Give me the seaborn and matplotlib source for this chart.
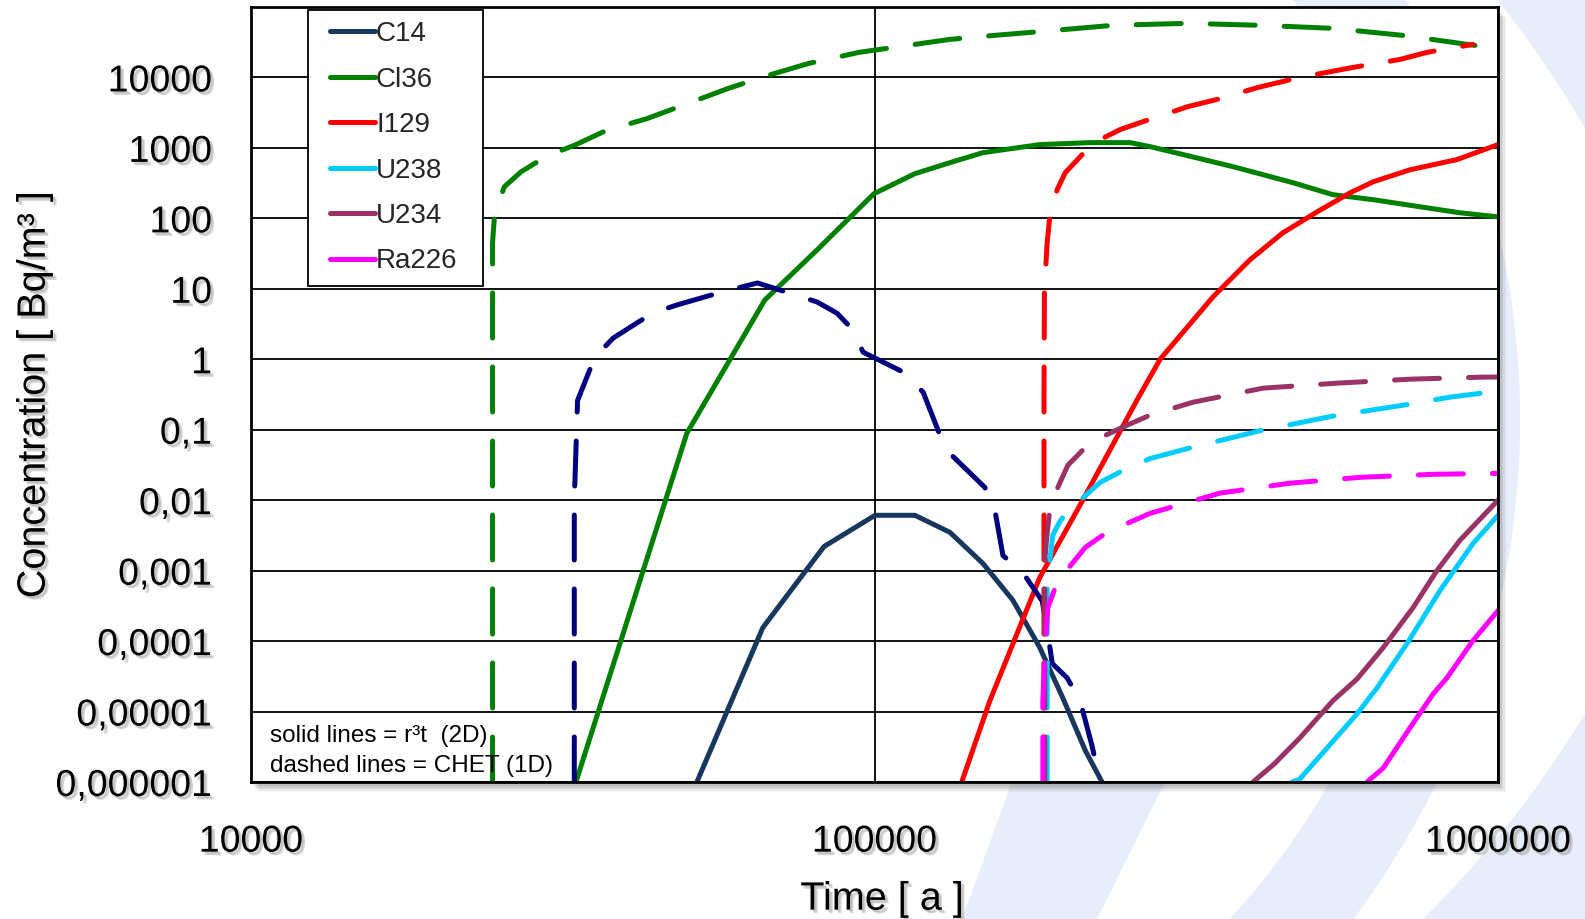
import numpy as np
import pandas as pd
import matplotlib
matplotlib.use("Agg")
import matplotlib.pyplot as plt
import matplotlib.patheffects as pe
from matplotlib.lines import Line2D
from matplotlib.patches import Rectangle
from matplotlib.transforms import Affine2D
from matplotlib.legend_handler import HandlerLine2D
from matplotlib.ticker import FixedLocator, FixedFormatter, NullLocator
import seaborn as sns

# ---------------------------------------------------------------- data
# time [a] and concentration [Bq/m3]; solid = r3t (2D), dashed = CHET (1D)
c14_2d_t = [51900, 66200, 83000, 100200, 116100, 132100, 149300, 166700, 184100, 200400, 217800, 231700]
c14_2d_c = [1e-6, 1.55e-4, 2.2e-3, 6.1e-3, 6.1e-3, 3.5e-3, 1.26e-3, 3.8e-4, 8.1e-5, 1.57e-5, 2.8e-6, 1e-6]

c14_1d_t = [33000, 33000, 33400, 35600, 38100, 44000, 48200, 56900, 64900, 73100, 80900, 87100, 92000,
            95900, 111900, 119700, 127400, 132100, 150300, 156000, 160700, 173000, 185800, 189700,
            192800, 203700, 213800, 223400, 230100]
c14_1d_c = [1e-6, 0.01, 0.26, 1.07, 2.0, 4.5, 5.9, 9.0, 12.1, 8.7, 6.5, 4.5, 2.7,
            1.26, 0.64, 0.34, 0.083, 0.046, 0.0152, 0.0072, 0.00164, 0.00093, 0.00037, 0.000127,
            0.000048, 0.00003, 0.000014, 0.0000032, 1e-6]

cl36_2d_t = [33200, 50000, 66700, 80900, 99800, 116100, 132100, 149300, 184100, 221800, 257000,
             276700, 312600, 375800, 468800, 543300, 631000, 749900, 869000, 1000000]
cl36_2d_c = [1e-6, 0.089, 6.95, 35.7, 224, 431, 617, 857, 1114, 1189, 1189,
             1042, 804, 542, 321, 217, 184, 146, 120, 105]

cl36_1d_t = [24400, 24400, 24600, 25500, 27100, 29700, 33200, 37100, 43200, 48200, 58200, 67500,
             78500, 94400, 132100, 157000, 186200, 241500, 316900, 414900, 543300, 704700, 918300]
cl36_1d_c = [1e-6, 45, 123, 282, 457, 752, 1114, 1762, 2612, 3741, 6966, 10700,
             15850, 22700, 34700, 39800, 45100, 55000, 58600, 55000, 49800, 39500, 28500]

i129_2d_t = [138000, 153100, 184100, 215800, 263600, 287100, 349100, 399900, 451900, 512900,
             579400, 631000, 722800, 859000, 1000000]
i129_2d_c = [1e-6, 1.42e-5, 8e-4, 0.01, 0.263, 1.0, 7.7, 25.7, 62.4, 124,
             231, 331, 490, 682, 1114]

i129_1d_t = [187000, 187000, 187300, 189200, 191000, 196300, 202300, 215300, 230100, 247700, 269800,
             318400, 354000, 412100, 480800, 584800, 696600, 769100, 912000]
i129_1d_c = [1e-6, 0.26, 9.6, 45, 105, 255, 446, 803, 1312, 1820, 2366,
             3864, 4864, 7211, 10000, 13870, 18030, 22700, 29500]

u238_2d_t = [467700, 480800, 532100, 594300, 639700, 714500, 807000, 912000, 1000000]
u238_2d_c = [1e-6, 1.1e-6, 3.05e-6, 9.3e-6, 2.17e-5, 9.2e-5, 5.2e-4, 2.43e-3, 6.1e-3]

u238_1d_t = [189200, 189200, 193200, 198600, 203700, 230100, 250600, 276700, 322800, 417800,
             543300, 704700, 837500, 1000000]
u238_1d_c = [1e-6, 0.00068, 0.0032, 0.0051, 0.0068, 0.0179, 0.0265, 0.039, 0.056, 0.098,
             0.156, 0.223, 0.29, 0.353]

u234_2d_t = [404600, 437500, 480800, 543300, 594300, 654600, 731100, 798000, 869000, 1000000]
u234_2d_c = [1e-6, 1.8e-6, 4.2e-6, 1.42e-5, 2.9e-5, 8.1e-5, 3.0e-4, 1e-3, 2.7e-3, 0.01]

u234_1d_t = [187500, 187500, 189200, 191000, 196800, 204200, 217800, 234400, 254100, 276700,
             324300, 419800, 552100, 722800, 946200, 1000000]
u234_1d_c = [1e-6, 0.00137, 0.0034, 0.0072, 0.0152, 0.0313, 0.056, 0.083, 0.116, 0.161,
             0.246, 0.389, 0.458, 0.522, 0.558, 0.56]

ra226_2d_t = [616600, 654600, 722800, 787000, 827900, 912000, 1000000]
ra226_2d_c = [1e-6, 1.58e-6, 5.9e-6, 1.78e-5, 3.0e-5, 1.02e-4, 2.7e-4]

ra226_1d_t = [186200, 186200, 187500, 189700, 196300, 206100, 217800, 236000, 276700, 358100,
              463400, 601200, 787000, 1000000]
ra226_1d_c = [1e-6, 1.4e-5, 6.6e-5, 0.0003, 0.00068, 0.00117, 0.00214, 0.0035, 0.0065, 0.0126,
              0.0174, 0.0211, 0.0233, 0.024]

nuclides = ["C14", "Cl36", "I129", "U238", "U234", "Ra226"]
solid_colors = ["#17375E", "#008000", "#FF0000", "#00CCFF", "#993366", "#FF00FF"]
dashed_colors = ["#000080", "#008000", "#FF0000", "#00CCFF", "#993366", "#FF00FF"]

solid_series = [(c14_2d_t, c14_2d_c), (cl36_2d_t, cl36_2d_c), (i129_2d_t, i129_2d_c),
                (u238_2d_t, u238_2d_c), (u234_2d_t, u234_2d_c), (ra226_2d_t, ra226_2d_c)]
dashed_series = [(c14_1d_t, c14_1d_c), (cl36_1d_t, cl36_1d_c), (i129_1d_t, i129_1d_c),
                 (u238_1d_t, u238_1d_c), (u234_1d_t, u234_1d_c), (ra226_1d_t, ra226_1d_c)]

y_ticks = [1e-6, 1e-5, 1e-4, 1e-3, 1e-2, 1e-1, 1, 10, 100, 1000, 10000]
y_tick_labels = ["0,000001", "0,00001", "0,0001", "0,001", "0,01", "0,1",
                 "1", "10", "100", "1000", "10000"]
x_ticks = [10000, 100000, 1000000]
x_tick_labels = ["10000", "100000", "1000000"]

# ---------------------------------------------------------------- style
sns.set_style("white")
plt.rcParams["font.family"] = ["Liberation Sans", "DejaVu Sans"]

W, H = 1585, 919
fig = plt.figure(figsize=(W / 100, H / 100), dpi=100)
fig.patch.set_facecolor("white")
# pixel coordinates, origin at the top-left corner
pix = Affine2D().scale(1 / W, -1 / H).translate(0, 1) + fig.transFigure

# pale blue background swooshes, rendered as a full-size backdrop image
yy, xx = np.mgrid[0:H, 0:W] + 0.5


def disc(cx, cy, r):
    return np.clip(r - np.hypot(xx - cx, yy - cy) + 0.5, 0, 1)


def left_of(x0, y0, x1, y1):
    nx, ny = (y1 - y0), -(x1 - x0)
    n = np.hypot(nx, ny)
    return np.clip(((xx - x0) * nx + (yy - y0) * ny) / n + 0.5, 0, 1)


right_side = xx > 1000
band_corner = (1 - disc(690, 646, 1034)) * right_side
band_ring = disc(690, 420, 830) * (1 - disc(690, 420, 735)) * right_side
band_low = (1 - disc(690, 174, 1045)) * (yy > 560) * right_side
band_bottom = ((1 - left_of(962, 919, 1012, 782)) * left_of(1097, 919, 1165, 782)
               * (yy > 700))
cover = np.maximum.reduce([band_corner, band_ring, band_low, band_bottom])
bg_rgb = np.array([0xE7, 0xED, 0xFB]) / 255.0
backdrop = (1 - cover[..., None]) * 1.0 + cover[..., None] * bg_rgb
fig.figimage(backdrop, xo=0, yo=0, origin="upper", zorder=0)

ax_l, ax_r, ax_t, ax_b = 251, 1498, 7, 782
ax = fig.add_axes([ax_l / W, 1 - ax_b / H, (ax_r - ax_l) / W, (ax_b - ax_t) / H])
ax.set_zorder(5)
ax.set_facecolor("white")

# soft drop shadow behind the plot area
for k, a in enumerate([0.10, 0.10, 0.10, 0.08, 0.06]):
    off = 2 + k * 1.5
    fig.patches.append(Rectangle((ax_l + off, ax_t + off + 2), ax_r - ax_l, ax_b - ax_t,
                                 transform=pix, facecolor="#555555",
                                 edgecolor="none", alpha=a, zorder=1))

LW = 3.6
DASH = (0, (9.0, 5.8))

for name, (t, c), col in zip(nuclides, solid_series, solid_colors):
    df = pd.DataFrame({"time": t, "conc": c})
    sns.lineplot(data=df, x="time", y="conc", ax=ax, color=col, lw=LW, estimator=None,
                 sort=False, legend=False, solid_capstyle="round", solid_joinstyle="round",
                 zorder=3)
for name, (t, c), col in zip(nuclides, dashed_series, dashed_colors):
    df = pd.DataFrame({"time": t, "conc": c})
    sns.lineplot(data=df, x="time", y="conc", ax=ax, color=col, lw=LW, estimator=None,
                 sort=False, legend=False, linestyle=DASH, dash_capstyle="round",
                 dash_joinstyle="round", zorder=4)

ax.set_xscale("log")
ax.set_yscale("log")
ax.set_xlim(1e4, 1e6)
ax.set_ylim(1e-6, 1e5)

ax.xaxis.set_major_locator(FixedLocator(x_ticks))
ax.xaxis.set_major_formatter(FixedFormatter(x_tick_labels))
ax.xaxis.set_minor_locator(NullLocator())
ax.yaxis.set_major_locator(FixedLocator(y_ticks))
ax.yaxis.set_major_formatter(FixedFormatter(y_tick_labels))
ax.yaxis.set_minor_locator(NullLocator())

ax.grid(True, which="major", color="black", lw=1.3, zorder=0)
for s in ax.spines.values():
    s.set_color("black")
    s.set_linewidth(2.0)
    s.set_zorder(6)

ax.tick_params(axis="both", which="major", direction="out", length=8, width=1.3,
               color="black", labelsize=27, labelcolor="black")
ax.tick_params(axis="y", pad=20)
ax.tick_params(axis="x", pad=22)

shadow = [pe.SimplePatchShadow(offset=(2.5, -2.5), shadow_rgbFace="#888888", alpha=0.35),
          pe.SimplePatchShadow(offset=(1.5, -1.5), shadow_rgbFace="#888888", alpha=0.25),
          pe.Normal()]
for lbl in ax.get_xticklabels() + ax.get_yticklabels():
    lbl.set_path_effects(shadow)

ax.set_xlabel("Time [ a ]", fontsize=28.5, color="black", path_effects=shadow)
ax.set_ylabel("Concentration [ Bq/m³ ]", fontsize=28.5, color="black", path_effects=shadow)
ax.xaxis.set_label_coords(0.506, -0.126)
ax.yaxis.set_label_coords(-0.159, 0.5)

# legend: one entry per nuclide, framed by a box drawn around it afterwards
LEG_FS = 20
handles = [Line2D([], [], color=c, lw=LW, solid_capstyle="round") for c in solid_colors]
leg = ax.legend(handles, nuclides, loc="upper left", bbox_to_anchor=(0.0457, 0.996),
                borderaxespad=0, fontsize=LEG_FS, frameon=False,
                handlelength=2.0, handletextpad=0.05, labelspacing=0.7, borderpad=0.4,
                handler_map={Line2D: HandlerLine2D(xpad=0.4)})
leg.set_zorder(7)

ax.text(0.0152, 0.0516, "solid lines = r³t  (2D)", transform=ax.transAxes, fontsize=17.5,
        va="baseline", ha="left", color="black", zorder=7)
ax.text(0.0152, 0.0129, "dashed lines = CHET (1D)", transform=ax.transAxes, fontsize=17.5,
        va="baseline", ha="left", color="black", zorder=7)

fig.canvas.draw()
bb = leg.get_window_extent().transformed(ax.transAxes.inverted())
extra = 14 / (ax_r - ax_l)
frame = Rectangle((bb.x0, bb.y0), bb.width + extra, bb.height, transform=ax.transAxes,
                  facecolor="white", edgecolor="black", lw=1.3, zorder=6.5)
ax.add_patch(frame)

fig.savefig("out.png", dpi=100, facecolor="white")
